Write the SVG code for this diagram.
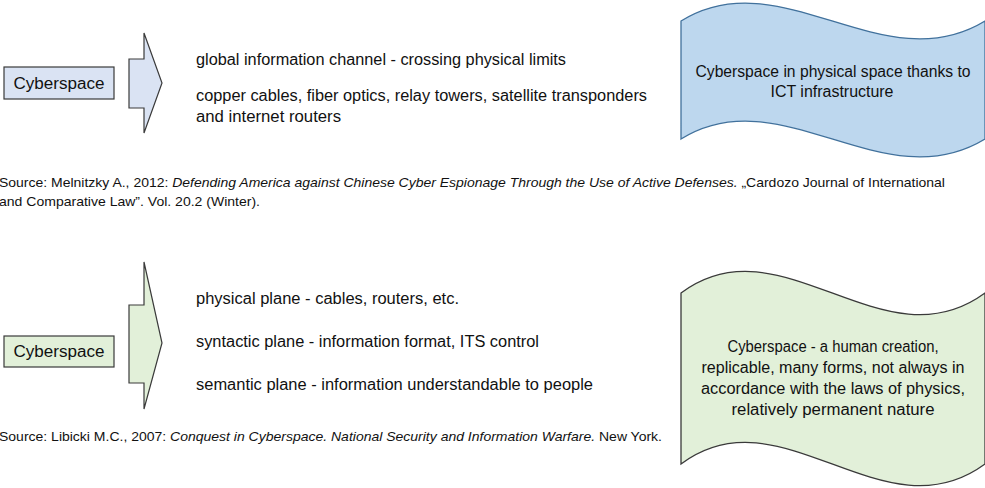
<svg xmlns="http://www.w3.org/2000/svg" width="985" height="488" viewBox="0 0 985 488">
  <style>
    text { font-family: "Liberation Sans", Arial, sans-serif; fill: #111111; }
    .lbl { font-size: 16px; }
    .src { font-size: 13px; }
    .it { font-style: italic; }
    .mid { text-anchor: middle; }
    .blueFill { fill: #dae3f3; stroke: #3a3a3a; stroke-width: 1.2; }
    .greenFill { fill: #e2f0d9; stroke: #3a3a3a; stroke-width: 1.2; }
    .waveBlue { fill: #bdd7ee; stroke: #41719c; stroke-width: 1.3; }
    .waveGreen { fill: #e2f0d9; stroke: #3a3a3a; stroke-width: 1.3; }
  </style>
  <rect width="985" height="488" fill="#ffffff"/>

  <!-- Upper row: physical-infrastructure view -->
  <g id="cyberspace-top">
    <rect class="blueFill" x="4" y="67" width="110" height="32"/>
    <text class="lbl mid" x="59" y="89" textLength="91" lengthAdjust="spacingAndGlyphs">Cyberspace</text>
  </g>
  <g id="arrow-top">
    <polygon class="blueFill" points="129,59 144,59 144,33 162,83 144,133 144,108 129,108"/>
  </g>
  <g id="list-top">
    <text class="lbl" x="196" y="65" textLength="370" lengthAdjust="spacingAndGlyphs">global information channel - crossing physical limits</text>
    <text class="lbl" x="196" y="101" textLength="451" lengthAdjust="spacingAndGlyphs">copper cables, fiber optics, relay towers, satellite transponders</text>
    <text class="lbl" x="196" y="122" textLength="145" lengthAdjust="spacingAndGlyphs">and internet routers</text>
  </g>
  <g id="wave-top">
    <path class="waveBlue" d="M681,21 C781,-41 883,83 985,21 L985,139 C883,201 781,77 681,139 Z"/>
    <text class="lbl mid" x="833" y="77" textLength="275" lengthAdjust="spacingAndGlyphs">Cyberspace in physical space thanks to</text>
    <text class="lbl mid" x="832" y="97" textLength="123" lengthAdjust="spacingAndGlyphs">ICT infrastructure</text>
  </g>
  <g id="source-top">
    <text class="src" x="-1" y="187" textLength="946" lengthAdjust="spacingAndGlyphs">Source: Melnitzky A., 2012: <tspan class="it">Defending America against Chinese Cyber Espionage Through the Use of Active Defenses.</tspan> „Cardozo Journal of International</text>
    <text class="src" x="-1" y="206" textLength="261" lengthAdjust="spacingAndGlyphs">and Comparative Law”. Vol. 20.2 (Winter).</text>
  </g>

  <!-- Lower row: three-plane view -->
  <g id="cyberspace-bottom">
    <rect class="greenFill" x="4" y="336" width="110" height="31"/>
    <text class="lbl mid" x="59" y="357" textLength="91" lengthAdjust="spacingAndGlyphs">Cyberspace</text>
  </g>
  <g id="arrow-bottom">
    <polygon class="greenFill" points="129,305 144,305 144,262 162,343 144,409 144,383 129,383"/>
  </g>
  <g id="list-bottom">
    <text class="lbl" x="196" y="304" textLength="263" lengthAdjust="spacingAndGlyphs">physical plane - cables, routers, etc.</text>
    <text class="lbl" x="196" y="347" textLength="343" lengthAdjust="spacingAndGlyphs">syntactic plane - information format, ITS control</text>
    <text class="lbl" x="196" y="390" textLength="397" lengthAdjust="spacingAndGlyphs">semantic plane - information understandable to people</text>
  </g>
  <g id="wave-bottom">
    <path class="waveGreen" d="M681,293 C781,218 883,368 985,293 L985,464 C883,539 781,389 681,464 Z"/>
    <text class="lbl mid" x="833" y="352" textLength="211" lengthAdjust="spacingAndGlyphs">Cyberspace - a human creation,</text>
    <text class="lbl mid" x="833" y="373" textLength="263" lengthAdjust="spacingAndGlyphs">replicable, many forms, not always in</text>
    <text class="lbl mid" x="833" y="394" textLength="264" lengthAdjust="spacingAndGlyphs">accordance with the laws of physics,</text>
    <text class="lbl mid" x="833" y="415" textLength="203" lengthAdjust="spacingAndGlyphs">relatively permanent nature</text>
  </g>
  <g id="source-bottom">
    <text class="src" x="-1" y="441" textLength="663" lengthAdjust="spacingAndGlyphs">Source: Libicki M.C., 2007: <tspan class="it">Conquest in Cyberspace. National Security and Information Warfare.</tspan> New York.</text>
  </g>

  <!-- No line connectors: the block arrows above carry the flow -->
  <g id="connectors"/>
</svg>
